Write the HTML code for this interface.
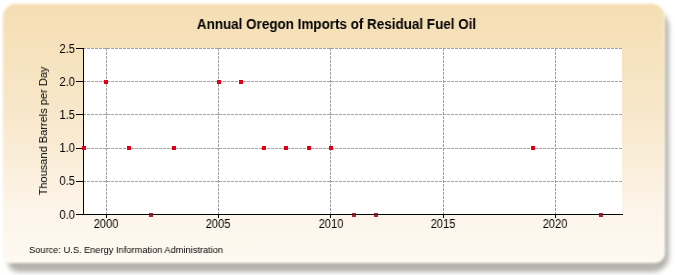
<!DOCTYPE html>
<html><head><meta charset="utf-8"><style>
.g{will-change:transform;}
html,body{margin:0;padding:0;background:#fff;width:675px;height:275px;overflow:hidden;position:relative;font-family:"Liberation Sans",sans-serif;}
.shadow{position:absolute;left:8px;top:11px;width:661px;height:261px;border-radius:14px 16px 16px 10px;background:#b4b2ac;filter:blur(2.6px);}
.card{position:absolute;left:1.5px;top:2.5px;width:663.5px;height:260.5px;border-radius:14px 13px 10px 7px;box-sizing:border-box;border:1.5px solid rgba(255,255,255,0.85);
background:linear-gradient(to bottom,#f5deb3 0%,#f8e8cc 45%,#fdf5ea 80%,#fef9f1 100%);background-origin:border-box;filter:blur(0.8px);}
svg{position:absolute;left:0;top:0;}
.t{position:absolute;left:1px;width:671px;top:16px;text-align:center;font-weight:bold;font-size:14px;line-height:16px;transform:scaleX(0.96);transform-origin:335.5px 0;color:#000;white-space:nowrap;}
.yl{position:absolute;left:40px;width:35px;text-align:right;font-size:12px;line-height:14px;transform:scaleX(0.93);transform-origin:100% 0;color:#000;}
.xl{position:absolute;top:217px;width:40px;text-align:center;font-size:12px;line-height:14px;transform:scaleX(0.93);color:#000;}
.ya{position:absolute;left:43px;top:130.5px;width:0;height:0;}
.ya div{position:absolute;left:-70px;top:-7px;width:140px;text-align:center;font-size:11.5px;line-height:14px;transform:rotate(-90deg) scaleX(0.96);white-space:nowrap;color:#000;}
.src{position:absolute;left:29px;top:242.8px;font-size:9.5px;line-height:13px;transform:scaleX(0.975);transform-origin:0 0;color:#000;white-space:nowrap;}
</style></head><body>
<div class="shadow"></div><div class="card"></div>
<div class="t g">Annual Oregon Imports of Residual Fuel Oil</div>
<svg width="675" height="275" shape-rendering="crispEdges">
<rect x="83" y="48" width="539" height="166" fill="#ffffff"/>
<line x1="83" y1="181.5" x2="622" y2="181.5" stroke="#a0a0a0" stroke-width="1" stroke-dasharray="3,1"/>
<line x1="83" y1="148.5" x2="622" y2="148.5" stroke="#a0a0a0" stroke-width="1" stroke-dasharray="3,1"/>
<line x1="83" y1="114.5" x2="622" y2="114.5" stroke="#a0a0a0" stroke-width="1" stroke-dasharray="3,1"/>
<line x1="83" y1="81.5" x2="622" y2="81.5" stroke="#a0a0a0" stroke-width="1" stroke-dasharray="3,1"/>
<line x1="83" y1="48.5" x2="622" y2="48.5" stroke="#a0a0a0" stroke-width="1" stroke-dasharray="3,1"/>
<line x1="106.5" y1="48" x2="106.5" y2="214" stroke="#a0a0a0" stroke-width="1" stroke-dasharray="3,1"/>
<line x1="218.5" y1="48" x2="218.5" y2="214" stroke="#a0a0a0" stroke-width="1" stroke-dasharray="3,1"/>
<line x1="330.5" y1="48" x2="330.5" y2="214" stroke="#a0a0a0" stroke-width="1" stroke-dasharray="3,1"/>
<line x1="443.5" y1="48" x2="443.5" y2="214" stroke="#a0a0a0" stroke-width="1" stroke-dasharray="3,1"/>
<line x1="555.5" y1="48" x2="555.5" y2="214" stroke="#a0a0a0" stroke-width="1" stroke-dasharray="3,1"/>
<line x1="83.5" y1="48" x2="83.5" y2="215" stroke="#000" stroke-width="1"/>
<line x1="76" y1="214.5" x2="623" y2="214.5" stroke="#000" stroke-width="1"/>
<line x1="76" y1="214.5" x2="83" y2="214.5" stroke="#000" stroke-width="1"/>
<line x1="76" y1="181.5" x2="83" y2="181.5" stroke="#000" stroke-width="1"/>
<line x1="76" y1="148.5" x2="83" y2="148.5" stroke="#000" stroke-width="1"/>
<line x1="76" y1="114.5" x2="83" y2="114.5" stroke="#000" stroke-width="1"/>
<line x1="76" y1="81.5" x2="83" y2="81.5" stroke="#000" stroke-width="1"/>
<line x1="76" y1="48.5" x2="83" y2="48.5" stroke="#000" stroke-width="1"/>
<line x1="106.5" y1="214" x2="106.5" y2="218" stroke="#000" stroke-width="1"/>
<line x1="218.5" y1="214" x2="218.5" y2="218" stroke="#000" stroke-width="1"/>
<line x1="330.5" y1="214" x2="330.5" y2="218" stroke="#000" stroke-width="1"/>
<line x1="443.5" y1="214" x2="443.5" y2="218" stroke="#000" stroke-width="1"/>
<line x1="555.5" y1="214" x2="555.5" y2="218" stroke="#000" stroke-width="1"/>
<rect x="82" y="146" width="4" height="4" fill="#dc0018"/>
<rect x="104" y="80" width="4" height="4" fill="#dc0018"/>
<rect x="127" y="146" width="4" height="4" fill="#dc0018"/>
<rect x="149" y="213" width="4" height="4" fill="#a82838"/><rect x="149" y="214" width="4" height="1" fill="#5a1018"/>
<rect x="172" y="146" width="4" height="4" fill="#dc0018"/>
<rect x="217" y="80" width="4" height="4" fill="#dc0018"/>
<rect x="239" y="80" width="4" height="4" fill="#dc0018"/>
<rect x="262" y="146" width="4" height="4" fill="#dc0018"/>
<rect x="284" y="146" width="4" height="4" fill="#dc0018"/>
<rect x="307" y="146" width="4" height="4" fill="#dc0018"/>
<rect x="329" y="146" width="4" height="4" fill="#dc0018"/>
<rect x="352" y="213" width="4" height="4" fill="#a82838"/><rect x="352" y="214" width="4" height="1" fill="#5a1018"/>
<rect x="374" y="213" width="4" height="4" fill="#a82838"/><rect x="374" y="214" width="4" height="1" fill="#5a1018"/>
<rect x="531" y="146" width="4" height="4" fill="#dc0018"/>
<rect x="599" y="213" width="4" height="4" fill="#a82838"/><rect x="599" y="214" width="4" height="1" fill="#5a1018"/>
</svg>
<div class="yl g" style="top:207.6px">0.0</div>
<div class="yl g" style="top:174.4px">0.5</div>
<div class="yl g" style="top:141.2px">1.0</div>
<div class="yl g" style="top:108.0px">1.5</div>
<div class="yl g" style="top:74.8px">2.0</div>
<div class="yl g" style="top:41.6px">2.5</div>
<div class="xl g" style="left:86.0px">2000</div>
<div class="xl g" style="left:198.2px">2005</div>
<div class="xl g" style="left:310.5px">2010</div>
<div class="xl g" style="left:422.8px">2015</div>
<div class="xl g" style="left:535.0px">2020</div>
<div class="ya"><div class="g">Thousand Barrels per Day</div></div>
<div class="src g">Source: U.S. Energy Information Administration</div>
</body></html>
